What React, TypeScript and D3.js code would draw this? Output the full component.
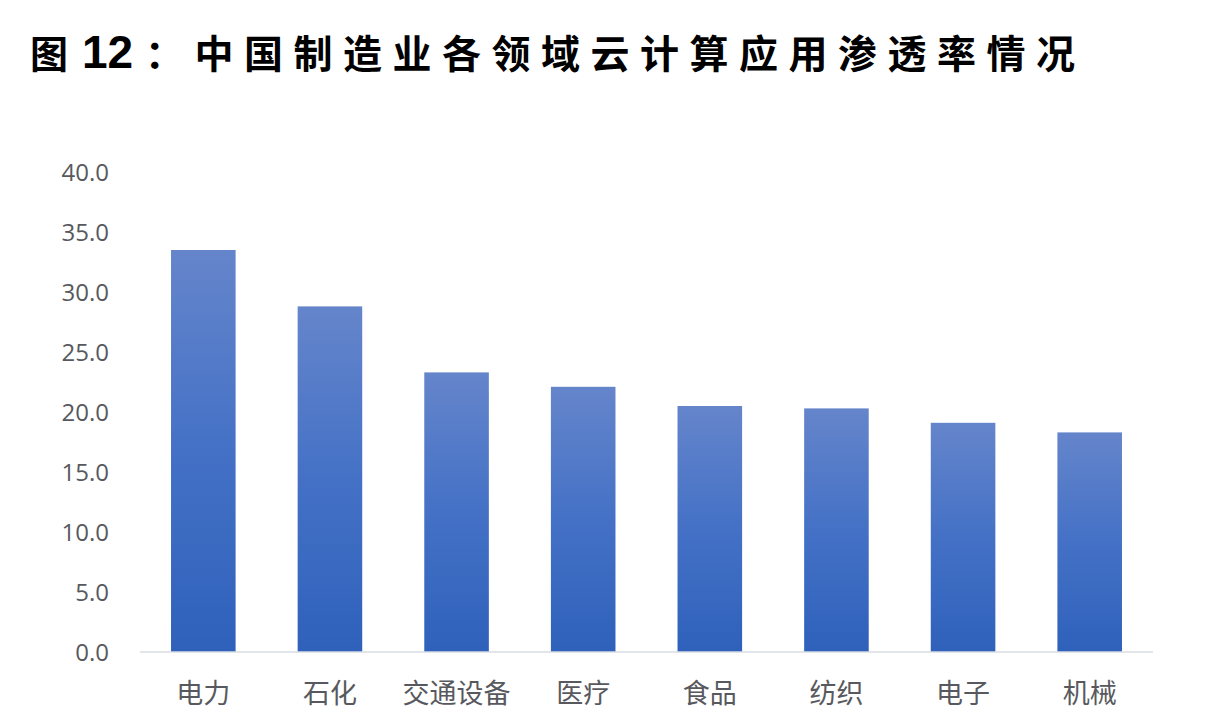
import { useEffect, useRef } from 'react';
import * as d3 from 'd3';

const categories = ['电力', '石化', '交通设备', '医疗', '食品', '纺织', '电子', '机械'];
const penetration = [33.5, 28.8, 23.3, 22.1, 20.5, 20.3, 19.1, 18.3];
const yTicks = [0, 5, 10, 15, 20, 25, 30, 35, 40];
const titlePrefix = '图';
const titleNumber = '12';
const titleText = '：中国制造业各领域云计算应用渗透率情况';

const W = 1224;
const H = 714;

const App = () => {
  const ref = useRef<SVGSVGElement>(null);

  useEffect(() => {
    const svg = d3.select(ref.current);
    svg.selectAll('*').remove();

    const margin = { top: 172, right: 71, bottom: 62, left: 140 };

    const x = d3.scaleBand()
      .domain(categories)
      .range([margin.left, W - margin.right])
      .paddingInner(0.49)
      .paddingOuter(0.245);

    const y = d3.scaleLinear()
      .domain([0, 40])
      .range([H - margin.bottom, margin.top]);

    const defs = svg.append('defs');
    const grad = defs.append('linearGradient')
      .attr('id', 'barGrad')
      .attr('x1', 0).attr('y1', 0).attr('x2', 0).attr('y2', 1);
    grad.append('stop').attr('offset', '0%').attr('stop-color', '#6585cb');
    grad.append('stop').attr('offset', '50%').attr('stop-color', '#4471c6');
    grad.append('stop').attr('offset', '100%').attr('stop-color', '#2f61bb');

    // title, in three pieces so the spacing can be matched
    const titleFont = '"Noto Sans CJK SC", sans-serif';
    svg.append('text')
      .attr('x', 30).attr('y', 68)
      .attr('font-family', titleFont)
      .attr('font-weight', 'bold')
      .attr('font-size', 38)
      .attr('fill', '#000')
      .text(titlePrefix);
    svg.append('text')
      .attr('x', 82).attr('y', 68)
      .attr('font-family', '"Liberation Sans", Arial, sans-serif')
      .attr('font-weight', 'bold')
      .attr('font-size', 46)
      .attr('fill', '#000')
      .text(titleNumber);
    svg.append('text')
      .attr('x', 145).attr('y', 68)
      .attr('font-family', titleFont)
      .attr('font-weight', 'bold')
      .attr('font-size', 39)
      .attr('letter-spacing', 10.5)
      .attr('fill', '#000')
      .text(titleText);

    // y axis labels
    svg.append('g')
      .selectAll('text').data(yTicks).enter().append('text')
      .attr('x', 109)
      .attr('y', d => y(d) + 9)
      .attr('text-anchor', 'end')
      .attr('font-family', '"Open Sans", "Noto Sans", sans-serif')
      .attr('font-size', 24)
      .attr('fill', '#58595e')
      .text(d => d.toFixed(1));

    // bars
    svg.append('g')
      .selectAll('rect').data(categories).enter().append('rect')
      .attr('x', d => x(d)!)
      .attr('y', (d, i) => y(penetration[i]))
      .attr('width', x.bandwidth())
      .attr('height', (d, i) => y(0) - y(penetration[i]))
      .attr('fill', 'url(#barGrad)');

    // baseline
    svg.append('line')
      .attr('x1', margin.left).attr('x2', W - margin.right)
      .attr('y1', y(0)).attr('y2', y(0))
      .attr('stroke', '#d9dde3')
      .attr('stroke-width', 1.5);

    // x labels
    svg.append('g')
      .selectAll('text').data(categories).enter().append('text')
      .attr('x', d => x(d)! + x.bandwidth() / 2)
      .attr('y', 703)
      .attr('text-anchor', 'middle')
      .attr('font-family', '"Noto Sans CJK SC", sans-serif')
      .attr('font-size', 27)
      .attr('fill', '#58595e')
      .text(d => d);
  }, []);

  return (
    <svg ref={ref} width={W} height={H}
      style={{ position: 'absolute', left: 0, top: 0, background: '#fff' }} />
  );
};

export default App;
